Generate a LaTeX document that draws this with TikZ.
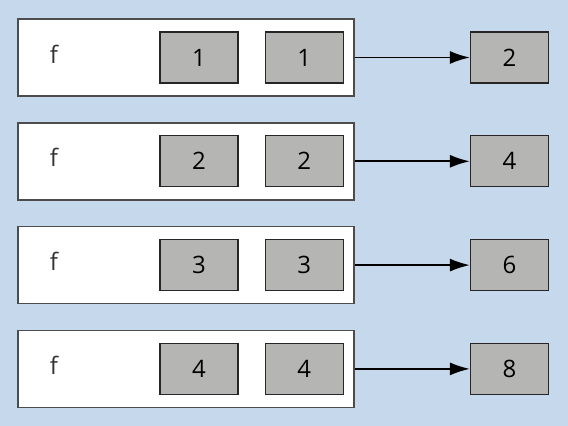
\documentclass[tikz,border=0pt]{standalone}
\usepackage{fontspec}
\setmainfont{Open Sans}
\usetikzlibrary{arrows.meta,positioning}
\definecolor{bgblue}{HTML}{C5D8EC}
\definecolor{cellgray}{HTML}{B5B5B4}

\begin{document}
\begin{tikzpicture}[x=0.5pt,y=-0.5pt,
          rowbox/.style={draw=black!70, fill=white, line width=0.8pt, minimum width=168pt, minimum height=38.5pt, inner sep=0pt},
          cell/.style={draw=black!85, fill=cellgray, line width=0.6pt, minimum width=39pt, minimum height=25.5pt, inner sep=0pt, font=\fontsize{12}{14}\selectfont},
          arr/.style={-{Latex[length=10pt,width=6.5pt]}, line width=0.9pt}]
        \fill[bgblue] (0,0) rectangle (568,426);
        \useasboundingbox (0,0) rectangle (568,426);
        \foreach \i/\v/\r in {1/1/2,2/2/4,3/3/6,4/4/8} {
          \pgfmathsetmacro\yc{57.5+103.8*(\i-1)}
          \node[rowbox] (row\i) at (186,\yc) {};
          \node[inner sep=0pt, text=black!80, font=\fontsize{12}{14}\selectfont] (f\i) at (54,\yc-3.5) {f};
          \node[cell] (a\i) at (199,\yc) {\v};
          \node[cell, right=13pt of a\i] (b\i) {\v};
          \node[cell] (res\i) at (509.5,\yc) {\r};
          \draw[arr] (row\i.east) -- (res\i.west);
        }
      \end{tikzpicture}
\end{document}
